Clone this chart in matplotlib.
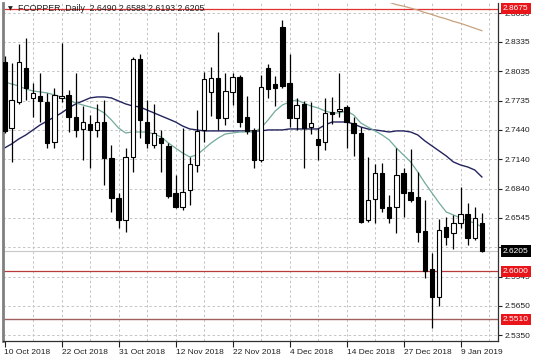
import numpy as np
import matplotlib.pyplot as plt
import matplotlib.transforms as mtransforms

# ---- data (FCOPPER daily, 10 Oct 2018 - 14 Jan 2019) ----
opens = [2.8131, 2.7459, 2.7724, 2.8070, 2.7765, 2.7785, 2.7724, 2.7316, 2.7765, 2.7795,
         2.7571, 2.7449, 2.7500, 2.7439, 2.7520, 2.7153, 2.6746, 2.6522, 2.7164, 2.8162,
         2.7520, 2.7286, 2.7357, 2.7276, 2.6797, 2.6654, 2.6827, 2.7082, 2.7439, 2.7826,
         2.7968, 2.7561, 2.7826, 2.7979, 2.7571, 2.7439, 2.7133, 2.8070, 2.7907, 2.8488,
         2.7917, 2.7561, 2.7704, 2.7469, 2.7347, 2.7316, 2.7622, 2.7632, 2.7673, 2.7510,
         2.7408, 2.6522, 2.6736, 2.7001, 2.6654, 2.6654, 2.7001, 2.6807, 2.6756, 2.6410,
         2.6023, 2.5737, 2.6451, 2.6389, 2.6491, 2.6583, 2.6338, 2.6490]
highs = [2.8193, 2.8121, 2.8315, 2.8376, 2.7917, 2.8019, 2.7816, 2.7867, 2.8325, 2.7846,
         2.8019, 2.7683, 2.7592, 2.7704, 2.7744, 2.7286, 2.6797, 2.7255, 2.8182, 2.8213,
         2.7744, 2.7704, 2.7439, 2.7306, 2.6980, 2.7459, 2.7164, 2.7642, 2.8030, 2.8081,
         2.8437, 2.8019, 2.8019, 2.7999, 2.7785, 2.7459, 2.7999, 2.8111, 2.7989, 2.8559,
         2.8213, 2.7765, 2.7734, 2.7724, 2.7459, 2.7765, 2.7775, 2.8019, 2.7693, 2.7571,
         2.7469, 2.7164, 2.7092, 2.7103, 2.6777, 2.7255, 2.7052, 2.7245, 2.7011, 2.6726,
         2.6186, 2.6532, 2.6552, 2.6573, 2.6858, 2.6695, 2.6654, 2.6588]
lows = [2.7408, 2.7113, 2.7704, 2.7744, 2.7571, 2.7520, 2.7255, 2.7255, 2.7724, 2.7418,
        2.7367, 2.7133, 2.7052, 2.7367, 2.6878, 2.6603, 2.6440, 2.6400, 2.7011, 2.7357,
        2.7255, 2.7255, 2.7011, 2.6746, 2.6644, 2.6624, 2.6675, 2.7011, 2.7316, 2.7581,
        2.7439, 2.7490, 2.7693, 2.7469, 2.7398, 2.7052, 2.7113, 2.7765, 2.7683, 2.7867,
        2.7469, 2.7439, 2.7052, 2.7398, 2.7133, 2.7235, 2.7500, 2.7571, 2.7255, 2.7174,
        2.6491, 2.6502, 2.6491, 2.6603, 2.6491, 2.6389, 2.6552, 2.6705, 2.6298, 2.5931,
        2.5422, 2.5646, 2.6267, 2.6226, 2.6440, 2.6267, 2.6318, 2.6193]
closes = [2.7429, 2.7744, 2.8131, 2.7867, 2.7816, 2.7734, 2.7306, 2.7795, 2.7785, 2.7571,
          2.7439, 2.7520, 2.7439, 2.7520, 2.7153, 2.6746, 2.6522, 2.7164, 2.8162, 2.7541,
          2.7306, 2.7408, 2.7306, 2.6766, 2.6654, 2.6807, 2.7092, 2.7429, 2.7958, 2.7968,
          2.7561, 2.7836, 2.7979, 2.7520, 2.7429, 2.7133, 2.7877, 2.7856, 2.7867, 2.7887,
          2.7561, 2.7693, 2.7459, 2.7510, 2.7286, 2.7612, 2.7602, 2.7653, 2.7520, 2.7408,
          2.6502, 2.6726, 2.7001, 2.6644, 2.6542, 2.6980, 2.6797, 2.6726, 2.6400, 2.6002,
          2.5737, 2.6420, 2.6349, 2.6491, 2.6583, 2.6338, 2.6542, 2.6205]

# moving averages as drawn on the chart
ma_slow = [2.7255, 2.7296, 2.7347, 2.7388, 2.7439, 2.7490, 2.7530, 2.7571, 2.7612, 2.7663,
           2.7704, 2.7734, 2.7765, 2.7775, 2.7775, 2.7765, 2.7734, 2.7704, 2.7683, 2.7673,
           2.7642, 2.7612, 2.7581, 2.7551, 2.7520, 2.7479, 2.7449, 2.7439, 2.7429, 2.7429,
           2.7429, 2.7429, 2.7429, 2.7429, 2.7429, 2.7429, 2.7429, 2.7439, 2.7439, 2.7439,
           2.7449, 2.7449, 2.7449, 2.7449, 2.7449, 2.7490, 2.7520, 2.7520, 2.7520, 2.7500,
           2.7469, 2.7449, 2.7439, 2.7429, 2.7418, 2.7429, 2.7429, 2.7418, 2.7388, 2.7327,
           2.7276, 2.7225, 2.7174, 2.7113, 2.7082, 2.7062, 2.7031, 2.6960]
ma_fast = [2.7928, 2.7907, 2.7887, 2.7856, 2.7836, 2.7826, 2.7816, 2.7795, 2.7775, 2.7744,
           2.7714, 2.7693, 2.7673, 2.7653, 2.7612, 2.7541, 2.7459, 2.7408, 2.7418, 2.7418,
           2.7418, 2.7398, 2.7367, 2.7306, 2.7255, 2.7204, 2.7164, 2.7184, 2.7245, 2.7306,
           2.7357, 2.7398, 2.7408, 2.7418, 2.7418, 2.7418, 2.7459, 2.7541, 2.7632, 2.7693,
           2.7724, 2.7744, 2.7714, 2.7683, 2.7663, 2.7632, 2.7612, 2.7612, 2.7632, 2.7592,
           2.7510, 2.7469, 2.7429, 2.7388, 2.7337, 2.7255, 2.7184, 2.7113, 2.7011, 2.6899,
           2.6797, 2.6695, 2.6603, 2.6573, 2.6542, 2.6512, 2.6491, 2.6451]
ma_long_start = 54
ma_long = [2.8740, 2.8715, 2.8700, 2.8680, 2.8660, 2.8635, 2.8615, 2.8590, 2.8570, 2.8545,
           2.8525, 2.8500, 2.8475, 2.8450]

date_labels = ["10 Oct 2018", "22 Oct 2018", "31 Oct 2018", "12 Nov 2018", "22 Nov 2018",
               "4 Dec 2018", "14 Dec 2018", "27 Dec 2018", "9 Jan 2019"]
price_ticks = [2.8630, 2.8335, 2.8035, 2.7735, 2.7440, 2.7140, 2.6840, 2.6545,
               2.6245, 2.5945, 2.5650, 2.5350]
levels = [2.8675, 2.6000, 2.5510]
last_price = 2.6205

# ---- figure ----
plt.rcParams["font.family"] = "Liberation Sans"
W, H = 536, 358
fig = plt.figure(figsize=(W / 100, H / 100), dpi=100)
px_left, px_right, px_top, px_bottom = 2.5, 498, 3, 341
ax = fig.add_axes([px_left / W, (H - px_bottom) / H,
                   (px_right - px_left) / W, (px_bottom - px_top) / H])

n = len(opens)
x = np.arange(n)
step = 7.125  # pixels per bar
ax.set_xlim((px_left - 4.5) / step, (px_right - 4.5) / step)
ax.set_ylim(2.5289, 2.8732)

# grid
for gx in range(4, 72, 4):
    ax.axvline(gx, color="#c4c4c4", lw=0.7, ls=(0, (2.5, 2.5)), zorder=0)
for gy in price_ticks:
    ax.axhline(gy, color="#c4c4c4", lw=0.7, ls=(0, (2.5, 2.5)), zorder=0)

# support / resistance lines
ax.axhline(levels[0], color="#e03030", lw=0.9, zorder=1)
ax.axhline(levels[1], color="#b83a3a", lw=0.9, zorder=1)
ax.axhline(levels[2], color="#a06060", lw=1.0, zorder=1)
ax.axhline(last_price, color="#c8c8c8", lw=0.8, zorder=1)

# moving averages
ax.plot(x, ma_slow, color="#23235e", lw=1.0, zorder=2)
ax.plot(x, ma_fast, color="#72aa9c", lw=0.9, zorder=2)
ax.plot(np.arange(ma_long_start, ma_long_start + len(ma_long)), ma_long,
        color="#c9a27e", lw=0.9, zorder=2)

# candles
o = np.array(opens)
c = np.array(closes)
ax.vlines(x, lows, highs, color="black", lw=0.9, zorder=3)
up = c >= o
body_lo = np.minimum(o, c)
body_h = np.maximum(np.abs(c - o), 0.0006)
ax.bar(x[up], body_h[up], 0.62, bottom=body_lo[up], color="white",
       edgecolor="black", linewidth=0.8, zorder=4)
ax.bar(x[~up], body_h[~up], 0.62, bottom=body_lo[~up], color="black",
       edgecolor="black", linewidth=0.8, zorder=4)

# axes styling
for side in ["top"]:
    ax.spines[side].set_visible(False)
ax.spines["left"].set_color("#808080")
ax.spines["left"].set_linewidth(2)
ax.spines["right"].set_color("#303030")
ax.spines["bottom"].set_color("#303030")
ax.spines["right"].set_linewidth(0.9)
ax.spines["bottom"].set_linewidth(0.9)

ax.yaxis.tick_right()
ax.set_yticks(price_ticks)
ax.set_yticklabels([f"{v:.4f}" for v in price_ticks])
ax.tick_params(axis="y", length=3, width=0.8, pad=2, labelsize=6, colors="#202020")
ax.set_xticks(np.arange(0, 8 * len(date_labels), 8))
ax.set_xticklabels(date_labels)
ax.tick_params(axis="x", length=4, width=0.8, pad=1.5, labelsize=6, colors="#202020")
for lab in ax.get_xticklabels():
    lab.set_ha("left")

# price boxes on the right axis
trans = mtransforms.blended_transform_factory(ax.transAxes, ax.transData)
bx = (503 - px_left) / (px_right - px_left)
box_items = [(levels[0], "#e8151b"), (last_price, "black"),
             (levels[1], "#e8151b"), (levels[2], "#e8151b")]
for val, col in box_items:
    ax.text(bx, val, f"{val:.4f}", transform=trans, ha="left", va="center",
            fontsize=6, color="white", clip_on=False, zorder=10,
            bbox=dict(boxstyle="square,pad=0.25", fc=col, ec="none"))

# title
ax.text(0.012, 2.8675, "\u25bc", transform=trans, fontsize=4.5, color="#202020",
        va="center", ha="left", family="DejaVu Sans", zorder=6)
ax.text(0.032, 2.8675, "FCOPPER.,Daily  2.6490 2.6588 2.6193 2.6205", transform=trans,
        fontsize=6.3, color="#202020", va="center", ha="left", zorder=6)

fig.savefig("out.png", dpi=100)
